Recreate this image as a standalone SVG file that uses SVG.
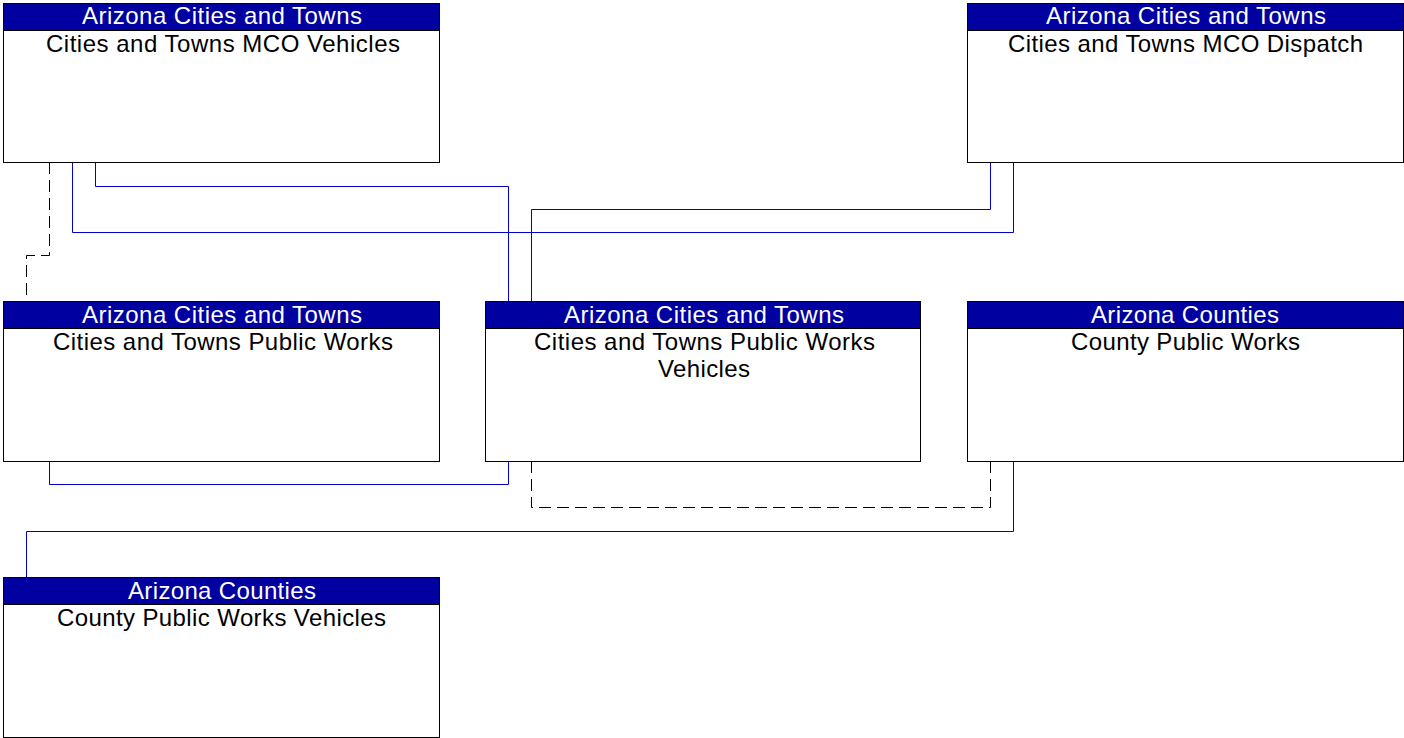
<svg xmlns="http://www.w3.org/2000/svg" width="1404" height="738" viewBox="0 0 1404 738">
<style>
.box{fill:#fff;stroke:#000;stroke-width:1}
.hdr{fill:#0000a0;stroke:#000;stroke-width:1}
.ht{font-family:"Liberation Sans",Arial,sans-serif;font-size:24px;fill:#fff;text-anchor:middle}
.bt{font-family:"Liberation Sans",Arial,sans-serif;font-size:24px;fill:#000;text-anchor:middle}
.flow{fill:none;stroke:#0000cc;stroke-width:1}
.dash{fill:none;stroke:#000;stroke-width:1;stroke-dasharray:12,6}
</style>
<rect width="1404" height="738" fill="#fff"/>
<g id="connectors">
<polyline class="dash" points="49.5,162 49.5,255.5 26.5,255.5 26.5,301"/>
<polyline class="flow" points="95.5,162 95.5,186.5 508.5,186.5 508.5,301"/>
<polyline class="flow" points="72.5,162 72.5,232.5 1013.5,232.5 1013.5,162"/>
<polyline class="flow" points="990.5,162 990.5,209.5 531.5,209.5 531.5,301"/>
<polyline class="flow" points="49.5,461 49.5,484.5 508.5,484.5 508.5,461"/>
<polyline class="dash" points="531.5,461 531.5,507.5 990.5,507.5 990.5,461"/>
<polyline class="flow" points="1013.5,461 1013.5,531.5 26.5,531.5 26.5,577"/>
</g>
<g id="n_mco_vehicles">
<rect class="box" x="3.5" y="3.5" width="436" height="159"/>
<rect class="hdr" x="3.5" y="3.5" width="436" height="27"/>
<text class="ht" x="222" y="24" textLength="280">Arizona Cities and Towns</text>
<text class="bt" x="223" y="51.5" textLength="354">Cities and Towns MCO Vehicles</text>
</g>
<g id="n_mco_dispatch">
<rect class="box" x="967.5" y="3.5" width="436" height="159"/>
<rect class="hdr" x="967.5" y="3.5" width="436" height="27"/>
<text class="ht" x="1186" y="24" textLength="280">Arizona Cities and Towns</text>
<text class="bt" x="1185.5" y="51.5" textLength="355">Cities and Towns MCO Dispatch</text>
</g>
<g id="n_public_works">
<rect class="box" x="3.5" y="301.5" width="436" height="160"/>
<rect class="hdr" x="3.5" y="301.5" width="436" height="27"/>
<text class="ht" x="222" y="322.5" textLength="280">Arizona Cities and Towns</text>
<text class="bt" x="223" y="350" textLength="340">Cities and Towns Public Works</text>
</g>
<g id="n_pw_vehicles">
<rect class="box" x="485.5" y="301.5" width="435" height="160"/>
<rect class="hdr" x="485.5" y="301.5" width="435" height="27"/>
<text class="ht" x="704" y="322.5" textLength="280">Arizona Cities and Towns</text>
<text class="bt" x="704.5" y="350" textLength="341">Cities and Towns Public Works</text>
<text class="bt" x="704" y="377" textLength="92">Vehicles</text>
</g>
<g id="n_county_pw">
<rect class="box" x="967.5" y="301.5" width="436" height="160"/>
<rect class="hdr" x="967.5" y="301.5" width="436" height="27"/>
<text class="ht" x="1185" y="322.5" textLength="188">Arizona Counties</text>
<text class="bt" x="1185.5" y="350" textLength="229">County Public Works</text>
</g>
<g id="n_county_pw_vehicles">
<rect class="box" x="3.5" y="577.5" width="436" height="160"/>
<rect class="hdr" x="3.5" y="577.5" width="436" height="27"/>
<text class="ht" x="222" y="598.5" textLength="188">Arizona Counties</text>
<text class="bt" x="221.5" y="626" textLength="329">County Public Works Vehicles</text>
</g>
</svg>
